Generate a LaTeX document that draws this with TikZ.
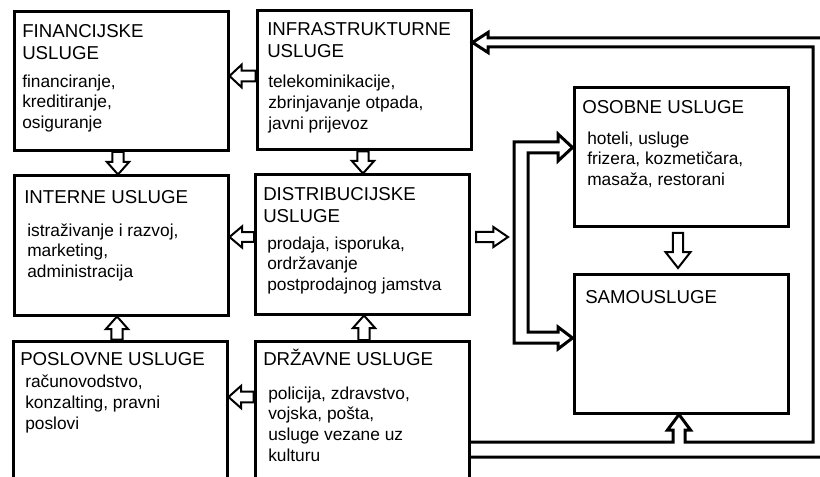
\documentclass[tikz,border=0pt]{standalone}
\usepackage{fontspec}
\setmainfont{Liberation Sans}
\usetikzlibrary{calc}
\newcommand\Tst{\rule{0pt}{13pt}}
\newcommand\Bst{\rule{0pt}{12pt}}
\tikzset{
 box/.style={draw, line width=2.25pt, minimum width=160.5pt, minimum height=104.25pt, inner sep=0pt},
 tall/.style={minimum height=119pt},
 ttl/.style={anchor=north west, yshift=13pt, inner sep=0pt, align=left, font=\fontsize{14}{16.5}\selectfont},
 bdy/.style={anchor=north west, yshift=12pt, inner sep=0pt, align=left, font=\fontsize{13}{15.5}\selectfont},
 harr/.style={draw, fill=white, line width=1.5pt, line join=miter},
 band/.style={draw, line width=2.25pt, line join=miter},
}
% hollow arrow: tail, tip, head length, head half width, shaft half width
\newcommand\harrow[5]{%
 \draw[harr] ($(#1)!#5!-90:(#2)$) -- ($(#2)!#3!(#1)!#5!90:(#1)$) -- ($(#2)!#3!(#1)!#4!90:(#1)$) -- (#2)
   -- ($(#2)!#3!(#1)!#4!-90:(#1)$) -- ($(#2)!#3!(#1)!#5!-90:(#1)$) -- ($(#1)!#5!90:(#2)$) -- cycle;}
\begin{document}
\begin{tikzpicture}[x=0.75pt, y=-0.75pt]
\clip (0,0) rectangle (820,477);
\fill[white] (0,0) rectangle (820,477);
% boxes
\node[box] (fin) at (121,81) {};
\node[box] (infra) at (364,80.5) {};
\node[box] (interne) at (121,245.5) {};
\node[box] (distr) at (362.5,244.5) {};
\node[box,tall] (poslovne) at (120,420.5) {};
\node[box,tall] (drzavne) at (362,421) {};
\node[box] (osobne) at (681,157.5) {};
\node[box] (samo) at (681,343.5) {};
% texts
\node[ttl] (finT) at (22,37.5) {\Tst FINANCIJSKE\\USLUGE};
\node[bdy] (finB) at (22,87) {\Bst financiranje,\\kreditiranje,\\osiguranje};
\node[ttl] (infraT) at (267,35) {\Tst INFRASTRUKTURNE\\USLUGE};
\node[bdy] (infraB) at (268,87.5) {\Bst telekominikacije,\\zbrinjavanje otpada,\\javni prijevoz};
\node[ttl] (interneT) at (24,203) {\Tst INTERNE USLUGE};
\node[bdy] (interneB) at (27,236) {\Bst istraživanje i razvoj,\\marketing,\\administracija};
\node[ttl] (distrT) at (263,200) {\Tst DISTRIBUCIJSKE\\USLUGE};
\node[bdy] (distrB) at (267,249) {\Bst prodaja, isporuka,\\ordržavanje\\postprodajnog jamstva};
\node[ttl] (poslovneT) at (20,365) {\Tst POSLOVNE USLUGE};
\node[bdy] (poslovneB) at (25,387.5) {\Bst računovodstvo,\\konzalting, pravni\\poslovi};
\node[ttl] (drzavneT) at (263,365) {\Tst DRŽAVNE USLUGE};
\node[bdy] (drzavneB) at (268,399) {\Bst policija, zdravstvo,\\vojska, pošta,\\usluge vezane uz\\kulturu};
\node[ttl] (osobneT) at (582,113) {\Tst OSOBNE USLUGE};
\node[bdy] (osobneB) at (587,144) {\Bst hoteli, usluge\\frizera, kozmetičara,\\masaža, restorani};
\node[ttl] (samoT) at (585,303) {\Tst SAMOUSLUGE};
% arrow end points
\coordinate (a1s) at (infra.west |- 0,76);
\coordinate (a1e) at (fin.east |- 0,76);
\coordinate (a2s) at (fin.south -| 118,0);
\coordinate (a2e) at (interne.north -| 118,0);
\coordinate (a3s) at (infra.south -| 363,0);
\coordinate (a3e) at (distr.north -| 363,0);
\coordinate (a4s) at (distr.west |- 0,237);
\coordinate (a4e) at (interne.east |- 0,237);
\coordinate (a5s) at (poslovne.north -| 117,0);
\coordinate (a5e) at (interne.south -| 117,0);
\coordinate (a6s) at (drzavne.north -| 364,0);
\coordinate (a6e) at (distr.south -| 364,0);
\coordinate (a7s) at (drzavne.west |- 0,397);
\coordinate (a7e) at (poslovne.east |- 0,397);
\coordinate (a8s) at (476,237);
\coordinate (a8e) at (508,237);
\coordinate (a9s) at (678,233);
\coordinate (a9e) at (678,268);
\harrow{a1s}{a1e}{9pt}{8.4pt}{4.1pt}
\harrow{a2s}{a2e}{9.5pt}{8.4pt}{4.3pt}
\harrow{a3s}{a3e}{9.5pt}{8.4pt}{4.3pt}
\harrow{a4s}{a4e}{9.5pt}{8pt}{3.6pt}
\harrow{a5s}{a5e}{9.5pt}{8.4pt}{4.3pt}
\harrow{a6s}{a6e}{9.5pt}{8.4pt}{4.3pt}
\harrow{a7s}{a7e}{9.5pt}{8.4pt}{4.1pt}
\harrow{a8s}{a8e}{11pt}{7.5pt}{3.75pt}
\harrow{a9s}{a9e}{12pt}{9.4pt}{3.9pt}
% big return band from DRZAVNE to INFRASTRUKTURNE and SAMOUSLUGE
\draw[band] (drzavne.east |- 0,457) -- (824,457) -- (824,38) -- (488,38) -- (488,32.5)
  -- (infra.east |- 0,42.5) -- (488,52.5) -- (488,47) -- (813,47) -- (813,442)
  -- (685,442) -- (685,430) -- (690.5,430) -- (samo.south -| 679,0) -- (667.5,430)
  -- (673,430) -- (673,442) -- (drzavne.east |- 0,442);
% bracket to OSOBNE and SAMOUSLUGE
\draw[band] (558,142) -- (514,142) -- (514,343) -- (558,343) -- (558,349)
  -- (samo.west |- 0,338) -- (558,327) -- (558,332) -- (528,332) -- (528,153)
  -- (558,153) -- (558,161) -- (osobne.west |- 0,147.5) -- (558,134) -- cycle;
\end{tikzpicture}
\end{document}
